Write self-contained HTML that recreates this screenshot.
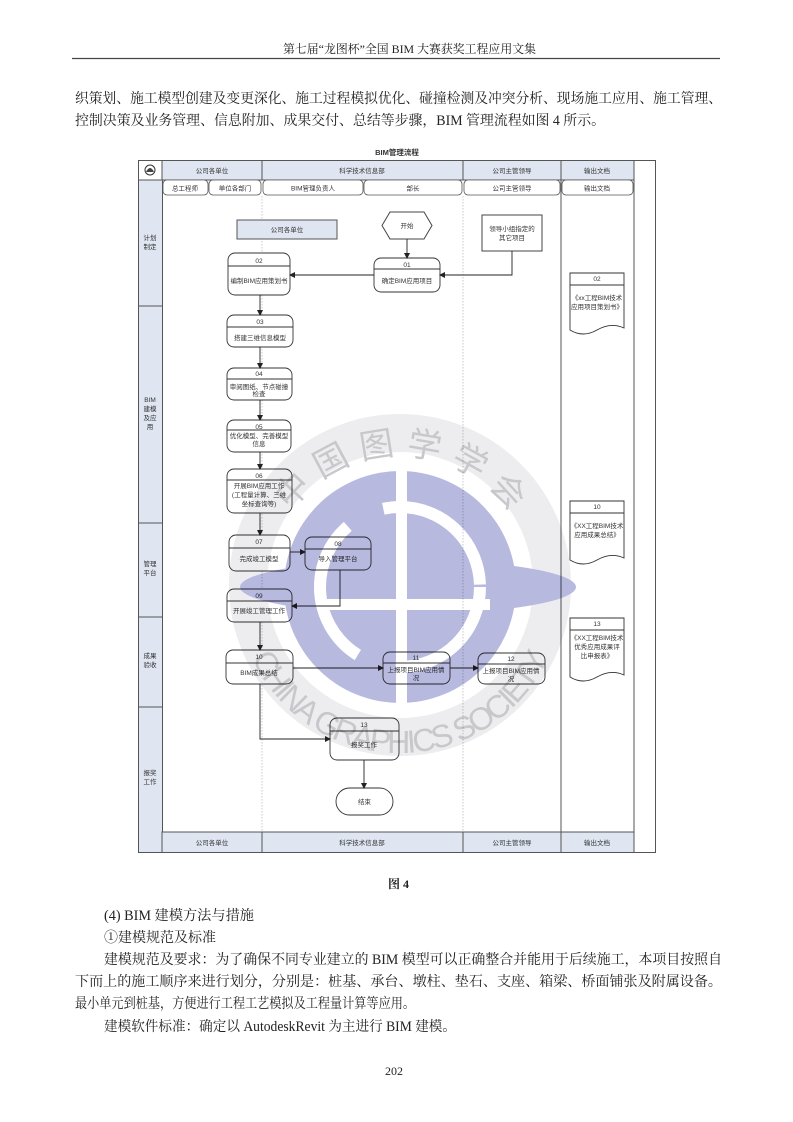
<!DOCTYPE html>
<html><head><meta charset="utf-8">
<style>
html,body{margin:0;padding:0;background:#fff;}
svg{display:block;}
</style></head>
<body>
<svg width="793" height="1122" viewBox="0 0 793 1122" xmlns="http://www.w3.org/2000/svg">
<defs>
<marker id="ar" markerWidth="6" markerHeight="6" refX="5" refY="3" orient="auto" markerUnits="userSpaceOnUse">
<path d="M0,0 L6,3 L0,6 z" fill="#222"/>
</marker>
<path id="topArc" d="M 265,590 A 135,135 0 0 1 535,590"/>
<path id="botArc" d="M 237,590 A 163,163 0 0 0 563,590"/>
<mask id="wm">
<rect x="0" y="0" width="793" height="1122" fill="#fff"/>
<rect x="396" y="466" width="11" height="240" fill="#000"/>
<rect x="320" y="599" width="170" height="11" fill="#000"/>
<circle cx="400" cy="587" r="80" fill="none" stroke="#000" stroke-width="12" stroke-dasharray="130,40,150,40,140,40"/>
</mask>
</defs>

<!-- page header -->
<g font-family="'Liberation Serif','Noto Serif CJK SC',serif" fill="#222">
<text x="283" y="53" font-size="12" textLength="253" lengthAdjust="spacingAndGlyphs">第七届“龙图杯”全国 BIM 大赛获奖工程应用文集</text>
<line x1="72" y1="58.5" x2="720" y2="58.5" stroke="#444" stroke-width="1.2"/>
<text x="75" y="103" font-size="14.3" textLength="647" lengthAdjust="spacingAndGlyphs">织策划、施工模型创建及变更深化、施工过程模拟优化、碰撞检测及冲突分析、现场施工应用、施工管理、</text>
<text x="75" y="125" font-size="14.3" textLength="530" lengthAdjust="spacingAndGlyphs">控制决策及业务管理、信息附加、成果交付、总结等步骤，BIM 管理流程如图 4 所示。</text>

<text x="388" y="888" font-size="12" font-weight="bold">图 4</text>
<text x="104" y="920" font-size="14.3" textLength="150" lengthAdjust="spacingAndGlyphs">(4) BIM 建模方法与措施</text>
<text x="104" y="942" font-size="14.3" textLength="112" lengthAdjust="spacingAndGlyphs">①建模规范及标准</text>
<text x="104" y="964" font-size="14.3" textLength="618" lengthAdjust="spacingAndGlyphs">建模规范及要求：为了确保不同专业建立的 BIM 模型可以正确整合并能用于后续施工，本项目按照自</text>
<text x="75" y="986" font-size="14.3" textLength="647" lengthAdjust="spacingAndGlyphs">下而上的施工顺序来进行划分，分别是：桩基、承台、墩柱、垫石、支座、箱梁、桥面铺张及附属设备。</text>
<text x="75" y="1008" font-size="14.3" textLength="340" lengthAdjust="spacingAndGlyphs">最小单元到桩基，方便进行工程工艺模拟及工程量计算等应用。</text>
<text x="104" y="1031" font-size="14.3" textLength="352" lengthAdjust="spacingAndGlyphs">建模软件标准：确定以 AutodeskRevit 为主进行 BIM 建模。</text>
<text x="385" y="1075" font-size="12">202</text>
</g>

<!-- diagram -->
<g font-family="'Liberation Sans','Noto Sans CJK SC',sans-serif" fill="#333" font-size="6.5">
<text x="397" y="155" font-size="7.5" font-weight="bold" text-anchor="middle">BIM管理流程</text>
<rect x="138.5" y="160.5" width="517" height="692" fill="#fff" stroke="#555" stroke-width="1"/>
<rect x="138.5" y="180" width="24" height="672.5" fill="#dfe5f1" stroke="#555" stroke-width="1"/>
<rect x="162" y="160.5" width="472" height="19.5" fill="#dfe5f1" stroke="#555"/>
<rect x="162" y="832" width="472" height="20.5" fill="#dfe5f1" stroke="#555"/>
<g stroke="#555" stroke-width="1">
<line x1="262" y1="160.5" x2="262" y2="180"/><line x1="463" y1="160.5" x2="463" y2="180"/><line x1="561" y1="160.5" x2="561" y2="180"/>
<line x1="262" y1="832" x2="262" y2="852"/><line x1="463" y1="832" x2="463" y2="852"/><line x1="561" y1="832" x2="561" y2="852"/>
<line x1="561" y1="180" x2="561" y2="832"/><line x1="634" y1="160.5" x2="634" y2="852"/>
<line x1="138.5" y1="306" x2="162" y2="306"/><line x1="138.5" y1="523" x2="162" y2="523"/>
<line x1="138.5" y1="617" x2="162" y2="617"/><line x1="138.5" y1="707" x2="162" y2="707"/>
</g>
<g stroke="#bbb" stroke-width="0.8" stroke-dasharray="1.5,1.5">
<line x1="262" y1="196" x2="262" y2="832"/><line x1="463" y1="196" x2="463" y2="832"/>
</g>
<circle cx="150" cy="170" r="5" fill="#fff" stroke="#333"/>
<path d="M146,172 Q150,164 154,172 z" fill="#444"/>
<text x="212" y="173" text-anchor="middle">公司各单位</text>
<text x="362" y="173" text-anchor="middle">科学技术信息部</text>
<text x="512" y="173" text-anchor="middle">公司主管领导</text>
<text x="597" y="173" text-anchor="middle">输出文档</text>
<text x="212" y="845" text-anchor="middle">公司各单位</text>
<text x="362" y="845" text-anchor="middle">科学技术信息部</text>
<text x="512" y="845" text-anchor="middle">公司主管领导</text>
<text x="597" y="845" text-anchor="middle">输出文档</text>
<g fill="#fff" stroke="#555" stroke-width="0.8">
<rect x="163" y="180" width="45" height="15" rx="4"/>
<rect x="209" y="180" width="52" height="15" rx="4"/>
<rect x="263" y="180" width="100" height="15" rx="4"/>
<rect x="364" y="180" width="98" height="15" rx="4"/>
<rect x="464" y="180" width="96" height="15" rx="4"/>
<rect x="562" y="180" width="71" height="15" rx="4"/>
</g>
<text x="185" y="190.5" text-anchor="middle">总工程师</text>
<text x="235" y="190.5" text-anchor="middle">单位各部门</text>
<text x="313" y="190.5" text-anchor="middle">BIM管理负责人</text>
<text x="413" y="190.5" text-anchor="middle">部长</text>
<text x="512" y="190.5" text-anchor="middle">公司主管领导</text>
<text x="597" y="190.5" text-anchor="middle">输出文档</text>
<text x="150" y="240" text-anchor="middle">计划</text><text x="150" y="249" text-anchor="middle">制定</text>
<text x="150" y="402" text-anchor="middle">BIM</text><text x="150" y="411" text-anchor="middle">建模</text><text x="150" y="420" text-anchor="middle">及应</text><text x="150" y="429" text-anchor="middle">用</text>
<text x="150" y="566" text-anchor="middle">管理</text><text x="150" y="575" text-anchor="middle">平台</text>
<text x="150" y="658" text-anchor="middle">成果</text><text x="150" y="667" text-anchor="middle">验收</text>
<text x="150" y="775" text-anchor="middle">报奖</text><text x="150" y="784" text-anchor="middle">工作</text>

<rect x="237" y="220" width="100" height="19" fill="#dfe5f1" stroke="#555"/>
<text x="287" y="232" text-anchor="middle">公司各单位</text>
<path d="M382,225.5 L390,212 L424,212 L432,225.5 L424,239 L390,239 z" fill="#fff" stroke="#444"/>
<text x="407" y="228" text-anchor="middle">开始</text>
<rect x="482" y="215" width="60" height="36" fill="#fff" stroke="#444"/>
<text x="512" y="231" text-anchor="middle">领导小组指定的</text><text x="512" y="240" text-anchor="middle">其它项目</text>

<g fill="#fff" stroke="#333" stroke-width="0.9">
<rect x="374" y="258" width="66" height="34" rx="7"/><line x1="374" y1="269" x2="440" y2="269"/>
<rect x="228" y="253" width="62" height="42" rx="7"/><line x1="228" y1="266" x2="290" y2="266"/>
<rect x="227" y="315" width="66" height="32" rx="7"/><line x1="227" y1="327" x2="293" y2="327"/>
<rect x="227" y="368" width="65" height="32" rx="7"/><line x1="227" y1="379" x2="292" y2="379"/>
<rect x="227" y="420" width="64" height="32" rx="7"/><line x1="227" y1="430" x2="291" y2="430"/>
<rect x="227" y="469" width="65" height="44" rx="7"/><line x1="227" y1="480" x2="292" y2="480"/>
<rect x="229" y="535" width="61" height="36" rx="7"/><line x1="229" y1="548" x2="290" y2="548"/>
<rect x="305" y="537" width="66" height="33" rx="7"/><line x1="305" y1="549" x2="371" y2="549"/>
<rect x="227" y="589" width="65" height="33" rx="7"/><line x1="227" y1="601" x2="292" y2="601"/>
<rect x="226" y="650" width="67" height="34" rx="7"/><line x1="226" y1="663" x2="293" y2="663"/>
<rect x="383" y="652" width="67" height="32" rx="7"/><line x1="383" y1="663" x2="450" y2="663"/>
<rect x="478" y="653" width="67" height="31" rx="7"/><line x1="478" y1="664" x2="545" y2="664"/>
<rect x="330" y="718" width="69" height="42" rx="7"/><line x1="330" y1="731" x2="399" y2="731"/>
<rect x="336" y="788" width="57" height="27" rx="13.5"/>
</g>
<text x="407" y="267" text-anchor="middle">01</text><text x="407" y="283" text-anchor="middle">确定BIM应用项目</text>
<text x="259" y="263" text-anchor="middle">02</text><text x="259" y="283" text-anchor="middle">编制BIM应用策划书</text>
<text x="260" y="324" text-anchor="middle">03</text><text x="260" y="340" text-anchor="middle">搭建三维信息模型</text>
<text x="259" y="376" text-anchor="middle">04</text><text x="259" y="389" text-anchor="middle">审阅图纸、节点碰撞</text><text x="259" y="396" text-anchor="middle">检查</text>
<text x="259" y="429" text-anchor="middle">05</text><text x="259" y="438" text-anchor="middle">优化模型、完善模型</text><text x="259" y="446" text-anchor="middle">信息</text>
<text x="259" y="478" text-anchor="middle">06</text><text x="259" y="488" text-anchor="middle">开展BIM应用工作</text><text x="259" y="497" text-anchor="middle">(工程量计算、三维</text><text x="259" y="506" text-anchor="middle">坐标查询等)</text>
<text x="259" y="544" text-anchor="middle">07</text><text x="259" y="561" text-anchor="middle">完成竣工模型</text>
<text x="338" y="546" text-anchor="middle">08</text><text x="338" y="561" text-anchor="middle">导入管理平台</text>
<text x="259" y="598" text-anchor="middle">09</text><text x="259" y="613" text-anchor="middle">开展竣工管理工作</text>
<text x="259" y="659" text-anchor="middle">10</text><text x="259" y="675" text-anchor="middle">BIM成果总结</text>
<text x="416" y="660" text-anchor="middle">11</text><text x="416" y="672" text-anchor="middle">上报项目BIM应用情</text><text x="416" y="680" text-anchor="middle">况</text>
<text x="511" y="661" text-anchor="middle">12</text><text x="511" y="673" text-anchor="middle">上报项目BIM应用情</text><text x="511" y="681" text-anchor="middle">况</text>
<text x="364" y="727" text-anchor="middle">13</text><text x="364" y="747" text-anchor="middle">报奖工作</text>
<text x="364.5" y="804" text-anchor="middle">结束</text>

<g fill="#fff" stroke="#333" stroke-width="0.9">
<path d="M570,273 H624 V328 Q611,322 597,330 Q583,338 570,330 z"/><line x1="570" y1="285" x2="624" y2="285"/>
<path d="M570,501 H624 V558 Q611,552 597,560 Q583,568 570,560 z"/><line x1="570" y1="513" x2="624" y2="513"/>
<path d="M570,618 H624 V675 Q611,669 597,677 Q583,685 570,677 z"/><line x1="570" y1="630" x2="624" y2="630"/>
</g>
<text x="597" y="281" text-anchor="middle">02</text><text x="597" y="300" text-anchor="middle">《xx工程BIM技术</text><text x="597" y="309" text-anchor="middle">应用项目策划书》</text>
<text x="597" y="509" text-anchor="middle">10</text><text x="597" y="528" text-anchor="middle">《XX工程BIM技术</text><text x="597" y="537" text-anchor="middle">应用成果总结》</text>
<text x="597" y="626" text-anchor="middle">13</text><text x="597" y="640" text-anchor="middle">《XX工程BIM技术</text><text x="597" y="649" text-anchor="middle">优秀应用成果评</text><text x="597" y="658" text-anchor="middle">比申报表》</text>

<g stroke="#222" stroke-width="0.9" fill="none" marker-end="url(#ar)">
<line x1="407" y1="239" x2="407" y2="258"/>
<polyline points="512,251 512,275 440,275"/>
<line x1="374" y1="275" x2="290" y2="275"/>
<line x1="260" y1="295" x2="260" y2="315"/>
<line x1="260" y1="347" x2="260" y2="368"/>
<line x1="260" y1="400" x2="260" y2="420"/>
<line x1="260" y1="452" x2="260" y2="469"/>
<line x1="260" y1="513" x2="260" y2="535"/>
<line x1="290" y1="552" x2="305" y2="552"/>
<polyline points="340,570 340,606 292,606"/>
<line x1="260" y1="622" x2="260" y2="650"/>
<line x1="293" y1="668" x2="383" y2="668"/>
<line x1="450" y1="668" x2="478" y2="668"/>
<polyline points="260,684 260,739 330,739"/>
<line x1="364" y1="760" x2="364" y2="788"/>
</g>
</g>

<!-- watermark (multiply so lines/text show through) -->
<g style="mix-blend-mode:multiply">
<circle cx="400" cy="585" r="152" fill="none" stroke="#ededf0" stroke-width="38"/>
<g mask="url(#wm)">
<ellipse cx="408" cy="587" rx="168" ry="27" fill="#b7b9df"/>
<circle cx="400" cy="587" r="116" fill="#b7b9df"/>
</g>
<g font-family="'Liberation Sans','Noto Sans CJK SC',sans-serif" fill="#c8c8cc" font-size="34">
<text><textPath href="#topArc" startOffset="84" textLength="257" lengthAdjust="spacing">中国图学学会</textPath></text>
<text font-size="32"><textPath href="#botArc" startOffset="70" textLength="372" lengthAdjust="spacing">CHINA GRAPHICS SOCIETY</textPath></text>
</g>
</g>
</svg>
</body></html>
